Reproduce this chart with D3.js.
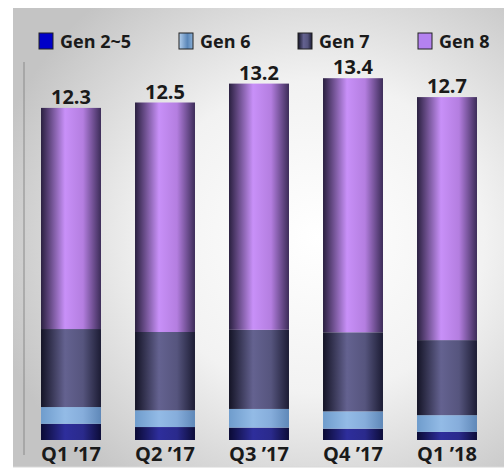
<!DOCTYPE html>
<html>
<head>
  <meta charset="utf-8">
  <script src="https://d3js.org/d3.v7.min.js"></script>
  <style>
    body { margin: 0; background: white; }
    svg text { font-family: 'Open Sans', 'DejaVu Sans', sans-serif; font-weight: bold; fill: #1a1a1a; }
  </style>
</head>
<body>
  <svg id="chart" width="504" height="470"></svg>
  <script>
    // data
    var quarters = ["Q1 \u201917", "Q2 \u201917", "Q3 \u201917", "Q4 \u201917", "Q1 \u201918"];
    var totals = [12.3, 12.5, 13.2, 13.4, 12.7];
    var gen25 = [0.60, 0.48, 0.46, 0.42, 0.30];
    var gen6 = [0.62, 0.62, 0.69, 0.64, 0.62];
    var gen7 = [2.89, 2.90, 2.93, 2.93, 2.78];
    var gen8 = [8.19, 8.50, 9.12, 9.41, 9.00];
    var seriesNames = ["Gen 2~5", "Gen 6", "Gen 7", "Gen 8"];

    var svg = d3.select('#chart');
    var defs = svg.append('defs');

    // background panel
    var bg = defs.append('radialGradient').attr('id', 'bg')
      .attr('cx', '62%').attr('cy', '50%').attr('r', '68%');
    bg.append('stop').attr('offset', '0%').attr('stop-color', '#ffffff');
    bg.append('stop').attr('offset', '50%').attr('stop-color', '#f2f2f2');
    bg.append('stop').attr('offset', '100%').attr('stop-color', '#c4c4c4');
    svg.append('rect').attr('x', 13).attr('y', 8).attr('width', 491).attr('height', 459)
      .attr('fill', 'url(#bg)');
    svg.append('line').attr('x1', 13).attr('x2', 504).attr('y1', 467).attr('y2', 467)
      .attr('stroke', '#d8d8d8');

    // bar shading, left dark -> light -> dark right
    var shades = [
      ['#0a0a34', '#2e2e9c', '#2a2a8c', '#0c0c38'],
      ['#6f9ccc', '#93bbe6', '#86addb', '#5f88b8'],
      ['#141426', '#646290', '#56557e', '#1c1c34'],
      ['#2a2040', '#c890f8', '#b47ee0', '#3c2c58']
    ];
    shades.forEach(function (s, i) {
      var g = defs.append('linearGradient').attr('id', 'g' + i)
        .attr('x1', '0%').attr('x2', '100%').attr('y1', '0%').attr('y2', '0%');
      g.append('stop').attr('offset', '0%').attr('stop-color', s[0]);
      g.append('stop').attr('offset', '40%').attr('stop-color', s[1]);
      g.append('stop').attr('offset', '70%').attr('stop-color', s[2]);
      g.append('stop').attr('offset', '100%').attr('stop-color', s[3]);
    });

    var x = d3.scaleBand().domain(quarters).range([24, 494])
      .paddingInner(0.362).paddingOuter(0.181);
    var y = d3.scaleLinear().domain([0, 14]).range([440, 62]);

    var table = quarters.map(function (q, i) {
      return { q: q, g25: gen25[i], g6: gen6[i], g7: gen7[i], g8: gen8[i], total: totals[i] };
    });
    var stack = d3.stack().keys(['g25', 'g6', 'g7', 'g8'])(table);

    // vertical axis line
    svg.append('line').attr('x1', 24).attr('x2', 24).attr('y1', y(14)).attr('y2', 455)
      .attr('stroke', '#8a8a8a').attr('stroke-width', 1);

    svg.append('g').selectAll('g')
      .data(stack)
      .join('g')
      .attr('fill', function (d, i) { return 'url(#g' + i + ')'; })
      .selectAll('rect')
      .data(function (d) { return d; })
      .join('rect')
      .attr('x', function (d) { return x(d.data.q); })
      .attr('y', function (d) { return y(d[1]); })
      .attr('width', x.bandwidth())
      .attr('height', function (d) { return y(d[0]) - y(d[1]); });

    // totals
    svg.append('g').selectAll('text')
      .data(table)
      .join('text')
      .attr('x', function (d) { return x(d.q) + x.bandwidth() / 2; })
      .attr('y', function (d) { return y(d.total) - 4; })
      .attr('text-anchor', 'middle')
      .style('font-size', '20px')
      .text(function (d) { return d.total.toFixed(1); });

    // category labels
    svg.append('g').selectAll('text')
      .data(quarters)
      .join('text')
      .attr('x', function (d) { return x(d) + x.bandwidth() / 2; })
      .attr('y', 461)
      .attr('text-anchor', 'middle')
      .style('font-size', '20px')
      .text(function (d) { return d; });

    // legend
    var legendX = [39, 179, 298, 418];
    var swatchFill = ['#0000c8', 'url(#lg6)', 'url(#g2)', '#b482f0'];
    var lg6 = defs.append('linearGradient').attr('id', 'lg6');
    lg6.append('stop').attr('offset', '0%').attr('stop-color', '#b4d0ee');
    lg6.append('stop').attr('offset', '60%').attr('stop-color', '#5a86b8');
    lg6.append('stop').attr('offset', '100%').attr('stop-color', '#8ab0d8');
    var leg = svg.append('g').selectAll('g')
      .data(seriesNames)
      .join('g')
      .attr('transform', function (d, i) { return 'translate(' + legendX[i] + ',33)'; });
    leg.append('rect')
      .attr('width', 14).attr('height', 16)
      .attr('fill', function (d, i) { return swatchFill[i]; })
      .attr('stroke', '#222').attr('stroke-width', 1);
    leg.append('text')
      .attr('x', 21).attr('y', 15)
      .style('font-size', '18px')
      .text(function (d) { return d; });
  </script>
</body>
</html>
